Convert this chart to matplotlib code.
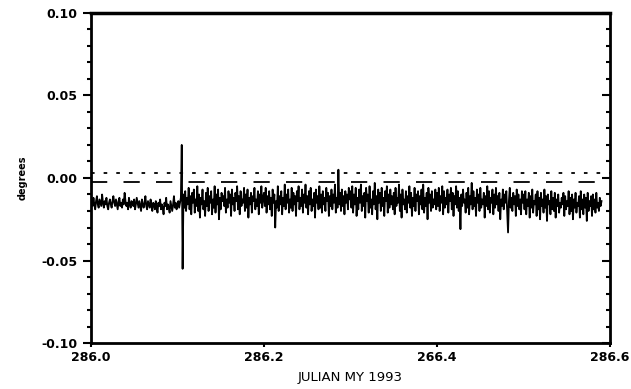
import matplotlib.pyplot as plt
import numpy as np

# sample times (julian day), evenly spaced
t_start = 286.0
t_step = 0.001

# offset in millidegrees
offset_mdeg = [
    # 286.000 - 286.104
    -15, -13, -17, -12, -16, -19, -14, -11, -16, -18, -13, -15, -17, -10, -15, -18, -14, -16, -12, -17,
    -19, -15, -13, -16, -18, -14, -11, -15, -17, -13, -16, -19, -14, -12, -17, -15, -18, -13, -16, -9,
    -14, -17, -15, -19, -12, -16, -18, -14, -15, -17, -13, -19, -16, -12, -15, -18, -14, -17, -20, -13,
    -16, -18, -15, -11, -17, -19, -14, -16, -18, -13, -17, -20, -15, -16, -19, -14, -18, -21, -15, -17,
    -13, -19, -16, -18, -22, -15, -17, -12, -19, -16, -18, -21, -14, -17, -20, -16, -11, -18, -15, -19,
    -17, -14, -18, -15, -12,
    # glitch at 286.105
    20, -55,
    # 286.107 - 286.199
    -10, -18, -8, -20, -12, -16, -6, -19, -11, -22, -9, -15, -7, -21, -13, -17, -5, -20, -10, -24,
    -12, -16, -7, -19, -14, -23, -9, -17, -6, -20, -11, -15, -8, -22, -13, -18, -5, -21, -10, -16,
    -7, -25, -12, -19, -9, -14, -11, -17, -6, -21, -13, -18, -8, -15, -10, -23, -7, -16, -12, -20,
    -9, -14, -5, -19, -11, -22, -8, -17, -13, -15, -6, -20, -10, -18, -7, -24, -12, -16, -9, -21,
    -11, -14, -6, -19, -13, -17, -8, -22, -10, -15, -5, -18, -12,
    # 286.200 - 286.299
    -9, -17, -6, -21, -11, -16, -8, -19, -12, -23, -7, -15, -10, -30, -14, -18, -5, -20, -11, -16,
    -8, -22, -12, -17, -4, -19, -10, -15, -7, -21, -13, -18, -6, -20, -9, -16, -11, -23, -8, -14,
    -5, -19, -12, -17, -7, -21, -10, -15, -4, -18, -11, -22, -8, -16, -6, -20, -13, -17, -9, -24,
    -7, -15, -11, -19, -5, -18, -10, -21, -8, -16, -12, -20, -6, -14, -9, -23, -11, -17, -7, -19,
    -10, -15, -4, -21, -12, -18, 5, -16, -9, -20, -7, -17, -11, -22, -8, -15, -10, -19, -6, -13,
    # 286.300 - 286.399
    -8, -18, -5, -21, -10, -16, -6, -23, -12, -19, -7, -15, -4, -20, -11, -17, -9, -24, -6, -14,
    -10, -21, -5, -18, -13, -22, -8, -16, -3, -19, -11, -25, -7, -15, -9, -20, -6, -17, -12, -23,
    -8, -14, -5, -21, -10, -18, -7, -16, -11, -19, -9, -22, -6, -17, -12, -15, -4, -20, -10, -24,
    -7, -16, -13, -19, -8, -21, -11, -15, -5, -18, -9, -23, -12, -17, -6, -20, -10, -14, -8, -22,
    -11, -16, -7, -19, -4, -21, -12, -17, -9, -25, -6, -15, -10, -20, -8, -18, -13, -16, -7, -19,
    # 286.400 - 286.499
    -9, -17, -6, -20, -11, -15, -5, -22, -8, -18, -12, -16, -7, -21, -10, -14, -6, -19, -9, -23,
    -11, -16, -5, -18, -8, -20, -12, -31, -10, -17, -7, -15, -13, -21, -9, -18, -6, -22, -11, -16,
    -3, -19, -8, -17, -12, -23, -7, -15, -10, -20, -6, -18, -13, -16, -9, -24, -11, -17, -5, -19,
    -8, -21, -12, -15, -7, -22, -10, -18, -6, -16, -11, -20, -9, -25, -13, -17, -7, -19, -10, -15,
    -8, -21, -33, -14, -6, -18, -12, -20, -9, -16, -11, -23, -7, -17, -10, -19, -13, -22, -8, -15,
    # 286.500 - 286.590
    -10, -19, -8, -22, -13, -17, -9, -24, -11, -18, -7, -21, -14, -16, -10, -23, -8, -19, -12, -25,
    -9, -17, -13, -21, -7, -18, -11, -26, -10, -16, -14, -22, -8, -19, -12, -20, -9, -24, -13, -17,
    -10, -21, -15, -18, -12, -16, -9, -23, -11, -19, -14, -17, -8, -22, -12, -20, -10, -25, -13, -18,
    -9, -21, -15, -17, -11, -24, -8, -19, -13, -22, -10, -18, -12, -26, -9, -20, -14, -17, -11, -23,
    -10, -19, -13, -21, -9, -18, -15, -20, -12, -17, -14,
]

upper_limit = 0.003
lower_limit = -0.0025

x_ticks = [286.0, 286.2, 286.4, 286.6]
x_ticklabels = ["286.0", "286.2", "266.4", "286.6"]
y_ticks = [-0.10, -0.05, 0.00, 0.05, 0.10]
y_ticklabels = ["-0.10", "-0.05", "0.00", "0.05", "0.10"]

y = np.array(offset_mdeg) / 1000.0
t = t_start + t_step * np.arange(len(y))

fig = plt.figure(figsize=(6.31, 3.89), dpi=100)
ax = fig.add_axes([0.144, 0.118, 0.823, 0.849])

ax.plot(t, y, color="black", lw=1.3)
ax.axhline(upper_limit, color="black", lw=1.3, ls=(0, (2, 5)))
ax.axhline(lower_limit, color="black", lw=1.3, ls=(0, (9, 9)))

ax.set_xlim(286.0, 286.6)
ax.set_ylim(-0.10, 0.10)

for side in ["left", "right", "top", "bottom"]:
    ax.spines[side].set_linewidth(2.0)
ax.spines["top"].set_linewidth(2.5)

ax.set_xticks(x_ticks)
ax.set_xticklabels(x_ticklabels, fontsize=9, fontweight="bold")
ax.set_yticks(y_ticks)
ax.set_yticklabels(y_ticklabels, fontsize=9, fontweight="bold")
ax.set_yticks(np.arange(-0.10, 0.1001, 0.01), minor=True)

ax.tick_params(axis="x", length=3, width=1.5, direction="out", pad=3)
ax.tick_params(axis="y", which="major", length=6, width=1.5, direction="out")
ax.tick_params(axis="y", which="minor", length=3, width=1.5, direction="out")

# right-hand ticks point inward
ax_r = ax.twinx()
ax_r.set_ylim(ax.get_ylim())
ax_r.set_yticks(y_ticks)
ax_r.set_yticks(np.arange(-0.10, 0.1001, 0.01), minor=True)
ax_r.set_yticklabels([])
ax_r.tick_params(axis="y", which="major", length=6, width=1.5, direction="in")
ax_r.tick_params(axis="y", which="minor", length=3, width=1.5, direction="in")
for side in ["left", "right", "top", "bottom"]:
    ax_r.spines[side].set_visible(False)

ax.set_xlabel("JULIAN MY 1993", fontsize=9.5, labelpad=5)
ax.set_ylabel("degrees", fontsize=7, fontweight="bold", labelpad=10)

fig.savefig("out.png", dpi=100)
